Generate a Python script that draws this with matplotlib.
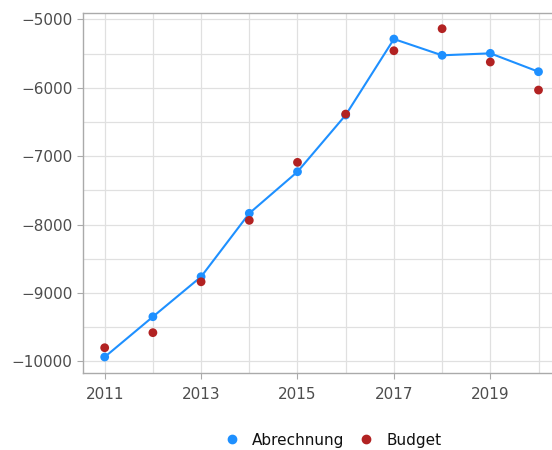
import matplotlib
matplotlib.use("Agg")
import matplotlib.pyplot as plt
from matplotlib.lines import Line2D

years = [2011, 2012, 2013, 2014, 2015, 2016, 2017, 2018, 2019, 2020]
abrechnung = [-9937, -9348, -8763, -7836, -7228, -6399, -5288, -5526, -5497, -5766]
budget = [-9801, -9581, -8837, -7939, -7091, -6385, -5459, -5137, -5624, -6034]

blue = "#1E90FF"
red = "#B22222"

fig = plt.figure(figsize=(5.52, 4.5), dpi=100)
ax = fig.add_axes([83/552, 1-373.3/450, (552-83)/552, (373.3-12.7)/450])

ax.plot(years, abrechnung, color=blue, lw=1.5, zorder=3)
ax.scatter(years, abrechnung, color=blue, s=40, zorder=4, edgecolors="none")
ax.scatter(years, budget, color=red, s=40, zorder=4, edgecolors="none")

ax.set_xlim(2010.55, 2020.28)
ax.set_ylim(-10175, -4903)
ax.set_xticks([2011, 2013, 2015, 2017, 2019])
ax.set_xticks(years, minor=True)
ax.set_yticks([-10000, -9000, -8000, -7000, -6000, -5000])
ax.set_yticks([-9500, -8500, -7500, -6500, -5500], minor=True)
ax.yaxis.set_major_formatter(matplotlib.ticker.FuncFormatter(lambda v, p: f"\u2212{abs(int(v))}" if v < 0 else f"{int(v)}"))
ax.grid(True, which="both", color="#e0e0e0", lw=0.9)
ax.set_axisbelow(True)
for s in ["left", "bottom", "top"]:
    ax.spines[s].set_color("#aaaaaa")
    ax.spines[s].set_linewidth(1.0)
ax.spines["right"].set_visible(False)
ax.tick_params(which="major", colors="#aaaaaa", labelcolor="#4d4d4d", labelsize=11, length=4)
ax.tick_params(which="minor", length=0)
ax.tick_params(axis="x", pad=6)

handles = [Line2D([], [], marker="o", color=blue, ls="none", markersize=6),
           Line2D([], [], marker="o", color=red, ls="none", markersize=6)]
fig.legend(handles, ["Abrechnung", "Budget"], loc="center", bbox_to_anchor=(332/552, 1-440/450),
           ncol=2, frameon=False, fontsize=11, handletextpad=0.75, columnspacing=0.8,
           handlelength=1.2, labelcolor="#111111")

fig.savefig("out.png", dpi=100)
